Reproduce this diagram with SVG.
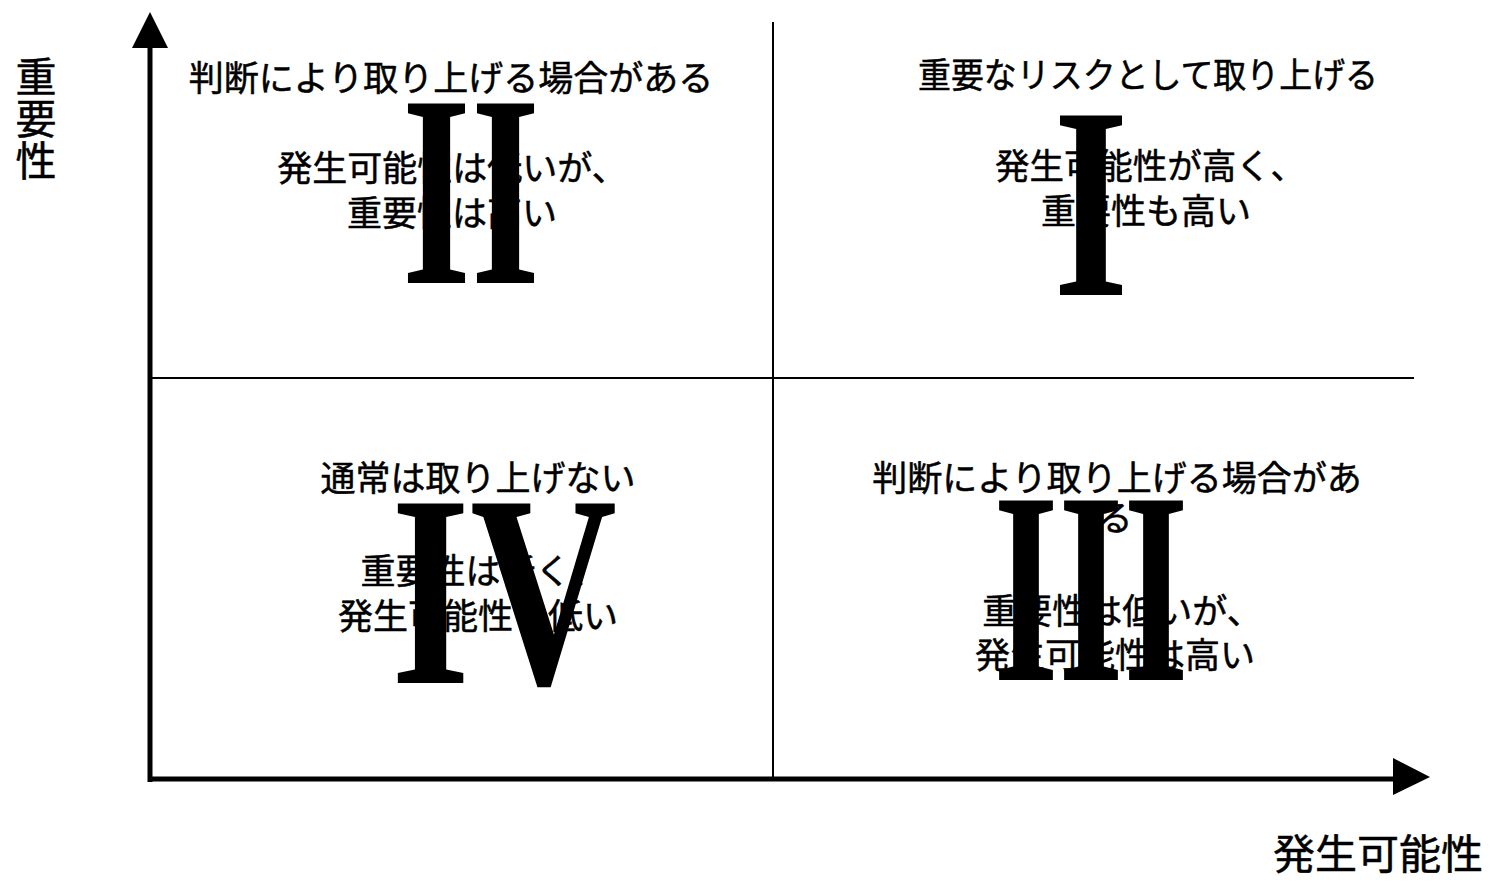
<svg xmlns="http://www.w3.org/2000/svg" width="1490" height="882" viewBox="0 0 1490 882">
<style>
.jp{font-family:"Noto Sans CJK JP","Noto Sans",sans-serif;font-size:35px;fill:#000;text-anchor:middle;stroke:#000;stroke-width:0.5}
.ax{font-family:"Noto Sans CJK JP","Noto Sans",sans-serif;font-size:41px;fill:#000;text-anchor:middle;stroke:#000;stroke-width:0.5}
.num{font-family:"Liberation Serif","Times New Roman",serif;font-weight:bold;font-size:274px;fill:#000;text-anchor:middle}
.axis{stroke:#000;stroke-width:5;fill:none}
.div{stroke:#000;stroke-width:2;fill:none}
</style>
<rect width="1490" height="882" fill="#fff"/>
<g id="connectors">
<line class="div" x1="773" y1="22" x2="773" y2="778"/>
<line class="div" x1="150" y1="378" x2="1414" y2="378"/>
<line class="axis" x1="150" y1="40" x2="150" y2="782"/>
<polygon points="150,12 132,48 168,48" fill="#000"/>
<line class="axis" x1="148" y1="779" x2="1400" y2="779"/>
<polygon points="1430,777 1393,758 1393,795" fill="#000"/>
</g>
<g id="axis-y-label">
<text class="ax" x="36" y="92">重</text>
<text class="ax" x="36" y="134">要</text>
<text class="ax" x="36" y="176">性</text>
</g>
<g id="axis-x-label">
<text class="ax" x="1378" y="869" textLength="210" lengthAdjust="spacingAndGlyphs">発生可能性</text>
</g>
<g id="q2">
<text class="jp" x="451" y="91">判断により取り上げる場合がある</text>
<text class="jp" x="452" y="181">発生可能性は低いが、</text>
<text class="jp" x="452" y="226">重要性は高い</text>
<text class="num" x="471" y="283" textLength="138" lengthAdjust="spacingAndGlyphs">II</text>
</g>
<g id="q1">
<text class="jp" x="1148" y="88" textLength="460" lengthAdjust="spacingAndGlyphs">重要なリスクとして取り上げる</text>
<text class="jp" x="1150" y="179" textLength="310" lengthAdjust="spacingAndGlyphs">発生可能性が高く、</text>
<text class="jp" x="1146" y="224">重要性も高い</text>
<text class="num" x="1091" y="295" textLength="75" lengthAdjust="spacingAndGlyphs">I</text>
</g>
<g id="q4">
<text class="jp" x="478" y="491">通常は取り上げない</text>
<text class="jp" x="483" y="584">重要性は低く、</text>
<text class="jp" x="478" y="629">発生可能性も低い</text>
<text class="num" x="504" y="683" textLength="226" lengthAdjust="spacingAndGlyphs">IV</text>
</g>
<g id="q3">
<text class="jp" x="1117" y="491">判断により取り上げる場合があ</text>
<text class="jp" x="1115" y="531">る</text>
<text class="jp" x="1122" y="624">重要性は低いが、</text>
<text class="jp" x="1115" y="668">発生可能性は高い</text>
<text class="num" x="1091" y="680" textLength="195" lengthAdjust="spacingAndGlyphs">III</text>
</g>
</svg>
